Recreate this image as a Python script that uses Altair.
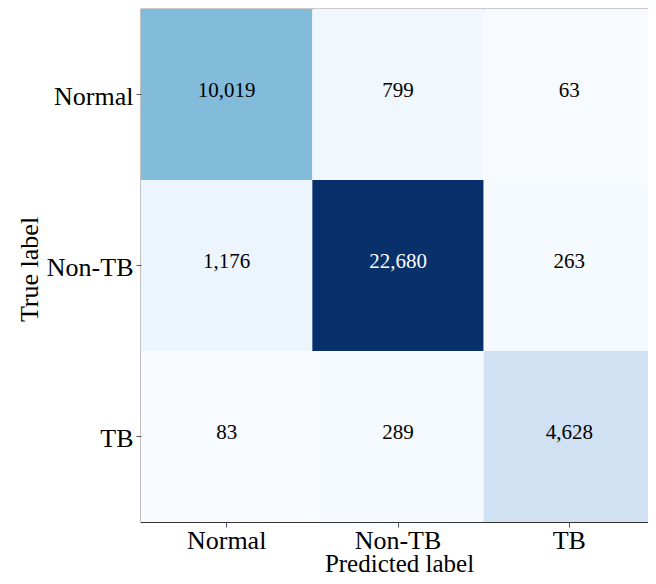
import altair as alt
import pandas as pd
import numpy as np

classes = ["Normal", "Non-TB", "TB"]
row_normal = [10019, 799, 63]
row_nontb = [1176, 22680, 263]
row_tb = [83, 289, 4628]
blues = ["#f7fbff", "#deebf7", "#c6dbef", "#9ecae1", "#6baed6",
         "#4292c6", "#2171b5", "#08519c", "#08306b"]

records = []
for t, row in zip(classes, [row_normal, row_nontb, row_tb]):
    for p, v in zip(classes, row):
        records.append({"true": t, "pred": p, "count": v})
df = pd.DataFrame(records)
vmin, vmax = int(df["count"].min()), int(df["count"].max())
domain = [float(d) for d in np.linspace(vmin, vmax, len(blues))]
df["label"] = df["count"].map(lambda v: f"{v:,}")
thr = (vmin + vmax) / 2

FONT = "Liberation Serif"
W, H = 514, 513

x_enc = alt.X("pred:N", sort=classes, title="Predicted label",
              scale=alt.Scale(paddingInner=0, paddingOuter=0),
              axis=alt.Axis(labelAngle=0, labelPadding=21, labelBaseline="alphabetic",
                            titleX=258, titleY=49, titleBaseline="alphabetic",
                            titleAlign="center", titleFontSize=25))
y_enc = alt.Y("true:N", sort=classes, title="True label",
              scale=alt.Scale(paddingInner=0, paddingOuter=0),
              axis=alt.Axis(labelPadding=3, labelOffset=2, titleX=-104, titleY=260,
                            titleBaseline="alphabetic", titleAlign="center", titleAngle=270))

base = alt.Chart(df)
rect = base.mark_rect().encode(
    x=x_enc, y=y_enc,
    color=alt.Color("count:Q", scale=alt.Scale(domain=domain, range=blues, interpolate="rgb"),
                    legend=None),
)
text = base.mark_text(font=FONT, fontSize=21, baseline="alphabetic", dy=2).encode(
    x=alt.X("pred:N", sort=classes),
    y=alt.Y("true:N", sort=classes),
    text="label:N",
    color=alt.condition(alt.datum["count"] > thr, alt.value("white"), alt.value("black")),
)

chart = (rect + text).properties(
    width=W, height=H,
    autosize=alt.AutoSizeParams(type="none"),
    padding={"left": 133, "top": 1, "right": -7, "bottom": 54},
).configure_view(
    stroke="#333333", strokeWidth=1.2
).configure_axis(
    labelFont=FONT, labelFontSize=26, labelColor="black",
    titleFont=FONT, titleFontSize=26, titleFontWeight="normal", titleColor="black",
    tickColor="#555555", tickSize=5, domain=False, grid=False,
)

chart.save("out.html", embed_options={"renderer": "svg", "actions": False})
